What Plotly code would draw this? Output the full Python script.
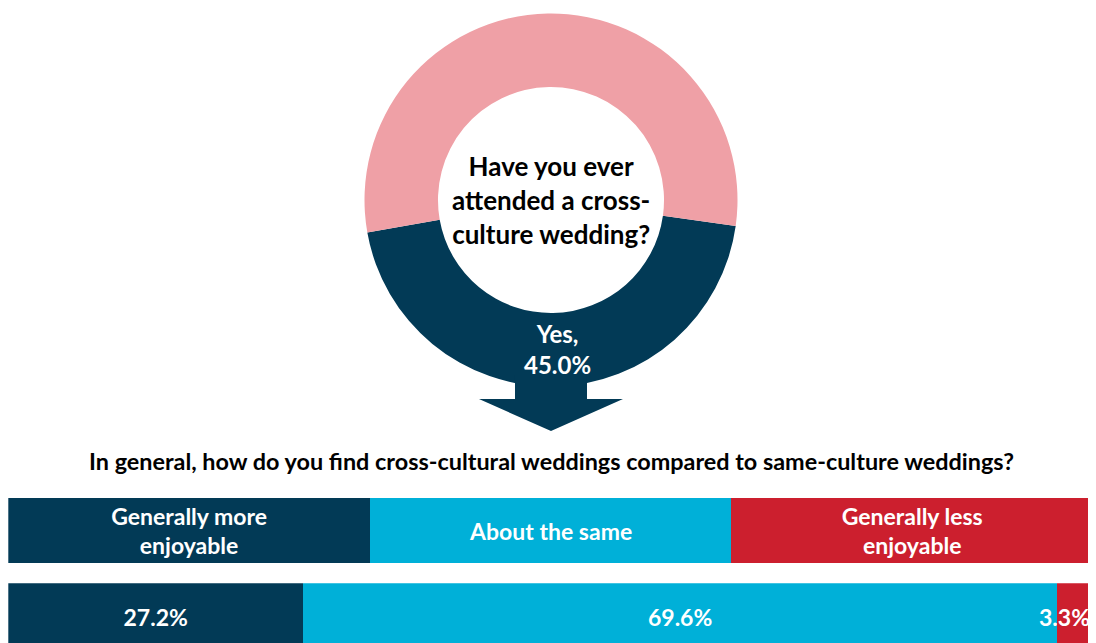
import plotly.graph_objects as go

W, H = 1096, 643

# ---- data ----
donut_labels = ["Yes", "No"]
donut_values = [45.0, 55.0]
donut_question = "Have you ever<br>attended a cross-<br>culture wedding?"

bar_question = "In general, how do you find cross-cultural weddings compared to same-culture weddings?"
bar_categories = ["Generally more<br>enjoyable", "About the same", "Generally less<br>enjoyable"]
bar_values = [27.2, 69.6, 3.3]
header_weights = [1, 1, 1]

NAVY = "#023A56"
PINK = "#EFA0A6"
CYAN = "#00B0D8"
RED = "#CC1F2E"
colors = [NAVY, CYAN, RED]
FONT = "Lato"

# page is drawn with an 8px body margin; coordinates below are figure pixels
def px(x):
    return x / W

def py(y):
    return (H - y) / H

fig = go.Figure()

# donut
cx, cy, R = 543, 192, 186.5
fig.add_trace(go.Pie(
    labels=donut_labels, values=donut_values,
    hole=0.606, sort=False, direction="clockwise", rotation=98,
    marker=dict(colors=[NAVY, PINK], line=dict(width=0)),
    textinfo="none", hoverinfo="label+percent", showlegend=False,
    domain=dict(x=[px(cx - R), px(cx + R)], y=[py(cy + R), py(cy - R)]),
))

# header bar (equal thirds)
for i, cat in enumerate(bar_categories):
    fig.add_trace(go.Bar(
        x=[header_weights[i]], y=[0], orientation="h", width=1,
        marker=dict(color=colors[i], line=dict(width=0)),
        text=[cat], textposition="inside", insidetextanchor="middle",
        textangle=0, constraintext="none",
        textfont=dict(family=FONT, size=23, color="white", weight="bold"),
        xaxis="x2", yaxis="y2", showlegend=False, hoverinfo="skip",
    ))

# value bar
for i, cat in enumerate(bar_categories):
    last = i == len(bar_categories) - 1
    fig.add_trace(go.Bar(
        x=[bar_values[i]], y=[0], orientation="h", width=1,
        marker=dict(color=colors[i], line=dict(width=0)),
        text=[f"{bar_values[i]:.1f}%"], textposition="inside",
        insidetextanchor="end" if last else "middle",
        textangle=0, constraintext="none", cliponaxis=False,
        textfont=dict(family=FONT, size=23, color="white", weight="bold"),
        xaxis="x", yaxis="y", showlegend=False, name=cat.replace("<br>", " "),
    ))

xdom = [px(0.3), px(1085)]
ax_common = dict(showgrid=False, zeroline=False, showticklabels=False, showline=False, fixedrange=True)

# arrow under donut
arrow = [(507, 367), (579, 367), (579, 391), (615, 391), (543, 423), (471, 391), (507, 391)]
path = "M " + " L ".join(f"{px(x):.5f},{py(y):.5f}" for x, y in arrow) + " Z"

ann = dict(xref="paper", yref="paper", showarrow=False, align="center",
           xanchor="center", yanchor="middle")

fig.update_layout(
    width=W, height=H,
    margin=dict(l=0, r=0, t=0, b=0),
    paper_bgcolor="white", plot_bgcolor="rgba(0,0,0,0)",
    barmode="stack",
    font=dict(family=FONT),
    xaxis=dict(domain=xdom, range=[0, sum(bar_values)], anchor="y", **ax_common),
    yaxis=dict(domain=[0, py(575.3)], range=[-0.5, 0.5], anchor="x", **ax_common),
    xaxis2=dict(domain=xdom, range=[0, sum(header_weights)], anchor="y2", **ax_common),
    yaxis2=dict(domain=[py(555.3), py(489.7)], range=[-0.5, 0.5], anchor="x2", **ax_common),
    shapes=[dict(type="path", path=path, xref="paper", yref="paper",
                 fillcolor=NAVY, line=dict(width=0), layer="above")],
    annotations=[
        dict(x=px(cx), y=py(cy), text=donut_question,
             font=dict(family=FONT, size=26, color="black", weight="bold"), **ann),
        dict(x=px(549), y=py(341), text=f"{donut_labels[0]},<br>{donut_values[0]:.1f}%",
             font=dict(family=FONT, size=24, color="white", weight="bold"), **ann),
        dict(x=px(543), y=py(453), text=bar_question,
             font=dict(family=FONT, size=23.4, color="black", weight="bold"), **ann),
    ],
)

fig.write_html("out.html")
